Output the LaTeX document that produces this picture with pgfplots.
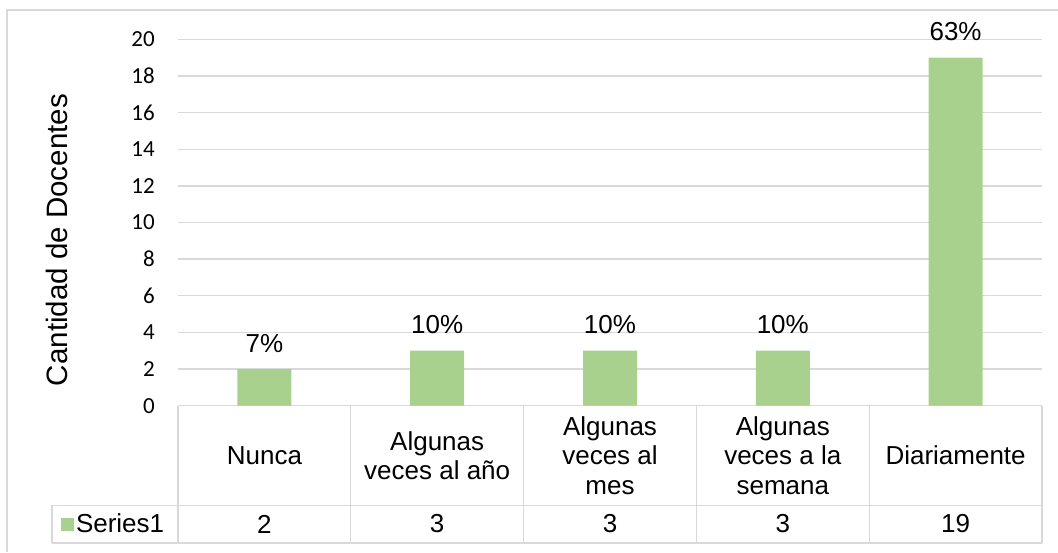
\documentclass[border=0pt]{standalone}
\usepackage{fontspec}
\setmainfont{Liberation Sans}
\newfontfamily\calibri{Carlito}
\usepackage{pgfplots}
\pgfplotsset{compat=1.18}
\definecolor{barg}{RGB}{169,209,142}
\definecolor{lg}{RGB}{217,217,217}
\begin{document}
\begin{tikzpicture}
\path[use as bounding box] (0pt,0pt) rectangle (1058pt,552pt);
\draw[lg, line width=1.3pt] (7pt,0pt) -- (7pt,542pt) -- (1058pt,542pt);
\begin{axis}[
  ybar, bar width=54pt,
  at={(178pt,146.3pt)}, anchor=south west,
  scale only axis, width=864pt, height=366.4pt,
  xmin=-0.5, xmax=4.5, ymin=0, ymax=20,
  axis line style={draw=none},
  ymajorgrids, grid style={lg, line width=1.3pt},
  major tick length=0pt,
  ytick={0,2,...,20},
  /pgf/number format/assume math mode=true,
  yticklabel style={font=\calibri\fontsize{23}{23}\selectfont, inner sep=0pt, anchor=east, xshift=-23pt},
  xtick={0,...,4},
  xticklabels={Nunca,{Algunas\\veces al año},{Algunas\\veces al\\mes},{Algunas\\veces a la\\semana},Diariamente},
  xticklabel style={font=\fontsize{26}{29.5}\selectfont, align=center, anchor=center, inner sep=0pt, yshift=-49.8pt},
  extra x ticks={0,...,4},
  extra x tick labels={2,3,3,3,19},
  extra x tick style={grid=none, xticklabel style={yshift=-68.5pt}},
  ylabel={Cantidad de Docentes},
  ylabel style={at={(axis description cs:-0.140,0.452)}, anchor=center, font=\fontsize{29.5}{29.5}\selectfont},
  point meta=explicit,
  nodes near coords={\pgfmathprintnumber{\pgfplotspointmeta}\%},
  nodes near coords style={font=\fontsize{26}{26}\selectfont, anchor=base, inner sep=0pt, yshift=17pt},
  clip=false,
  legend style={at={(-0.1354,-0.3229)}, anchor=west, draw=none, fill=none, inner sep=0pt, outer sep=0pt,
    font=\fontsize{26}{26}\selectfont, /tikz/every even column/.append style={column sep=10pt}},
  legend image code/.code={\fill[barg] (0pt,-6.5pt) rectangle (13pt,6.5pt);},
]
\addplot[fill=barg, draw=none] table[meta=pct] {
x y pct
0 2 7
1 3 10
2 3 10
3 3 10
4 19 63
};
\addlegendentry{Series1}
\end{axis}
\begin{scope}[lg, line width=1.3pt]
\draw (52pt,46.7pt) -- (1042pt,46.7pt);
\draw (52pt,9pt) -- (1042pt,9pt);
\draw (52pt,9pt) -- (52pt,46.7pt);
\foreach \xx in {178,350.8,523.6,696.4,869.2,1042} {\draw (\xx pt,9pt) -- (\xx pt,146.3pt);}
\end{scope}
\end{tikzpicture}
\end{document}
